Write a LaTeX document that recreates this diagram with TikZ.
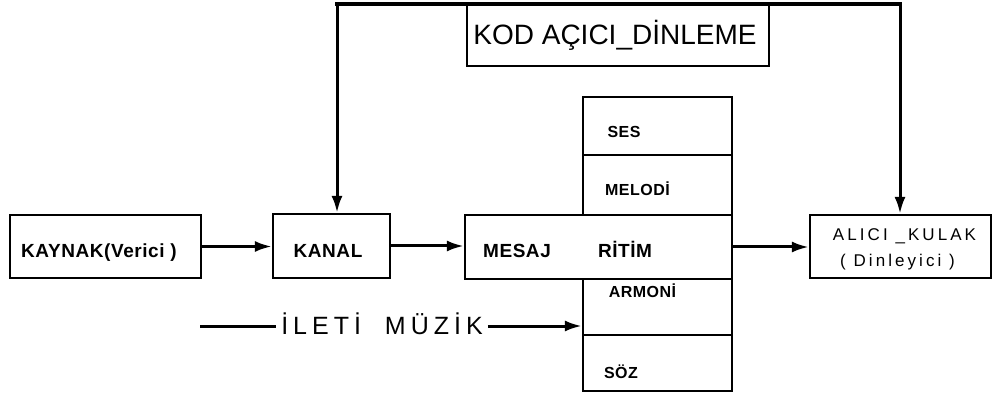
\documentclass[tikz,border=0pt]{standalone}
\usepackage{fontspec}
\setmainfont{Liberation Sans}
\newfontfamily\boxfont{Liberation Sans}[LetterSpace=3]
\newfontfamily\widefont{Liberation Sans}[LetterSpace=18]
\newfontfamily\iletifont{Liberation Sans}[LetterSpace=20]
\usetikzlibrary{arrows.meta}
\tikzset{
  cell/.style={draw, line width=2.2pt, inner sep=0pt},
  lbl/.style={inner sep=0pt, anchor=base, font=\boxfont\bfseries\fontsize{19}{22}\selectfont},
  smalllbl/.style={inner sep=0pt, anchor=base, font=\boxfont\bfseries\fontsize{16}{19}\selectfont},
  alicilbl/.style={inner sep=0pt, anchor=base, font=\widefont\fontsize{17}{20}\selectfont},
  arr/.style={line width=3pt, -{Latex[length=17pt,width=11pt]}},
  loopline/.style={line width=3.5pt}
}
\begin{document}
\begin{tikzpicture}[x=1pt,y=-1pt]
\useasboundingbox (0,0) rectangle (999,398);

% boxes
\node[cell, minimum width=191pt, minimum height=63pt] (kaynak) at (105.5,246.5) {};
\node[cell, minimum width=117pt, minimum height=64pt] (kanal) at (331.5,246) {};
\node[cell, minimum width=267pt, minimum height=64pt] (mesaj) at (598.5,247) {};
\node[cell, minimum width=149pt, minimum height=58pt] (ses) at (657.5,126) {};
\node[cell, minimum width=149pt, minimum height=60pt] (melodi) at (657.5,185) {};
\node[cell, minimum width=149pt, minimum height=56pt] (armoni) at (657.5,307) {};
\node[cell, minimum width=149pt, minimum height=56pt] (soz) at (657.5,363) {};
\node[cell, minimum width=181pt, minimum height=63pt] (alici) at (900.5,246.5) {};
\node[cell, line width=2.8pt, minimum width=302pt, minimum height=62pt] (kod) at (618,35) {};

% labels
\node[lbl] (kaynakT) at (99,258) {KAYNAK(Verici )};
\node[lbl] (kanalT) at (328,258) {KANAL};
\node[lbl] (mesajT) at (517,258) {MESAJ};
\node[lbl] (ritimT) at (625,258) {RİTİM};
\node[smalllbl] (sesT) at (624,138) {SES};
\node[smalllbl] (melodiT) at (637.5,196) {MELODİ};
\node[smalllbl] (armoniT) at (642.5,298) {ARMONİ};
\node[smalllbl] (sozT) at (621,378) {SÖZ};
\node[alicilbl] (aliciT1) at (904.5,241) {ALICI \_KULAK};
\node[alicilbl] (aliciT2) at (897.5,266) {( Dinleyici )};
\node[inner sep=0pt, anchor=base, font=\fontsize{28}{32}\selectfont] (kodT) at (615,45) {KOD AÇICI\_DİNLEME};
\node[inner sep=0pt, inner xsep=5pt, anchor=base, font=\iletifont\fontsize{25}{29}\selectfont] (ileti) at (382,334) {İLETİ\hspace{12pt} MÜZİK};

% connectors
\draw[arr] (kaynak.east) -- (kaynak.east -| kanal.west);
\draw[arr] (kanal.east) -- (kanal.east -| mesaj.west);
\draw[arr] (mesaj.east) -- (mesaj.east -| alici.west);

\coordinate (tl) at (337,4);
\coordinate (tr) at (900,4);
\draw[loopline, line cap=rect] (tl) -- (tr);
\draw[arr] (tl) -- (tl |- kanal.north);
\draw[arr] (tr) -- (tr |- alici.north);

\coordinate (ilstart) at (200,326);
\draw[line width=3pt] (ilstart) -- (ilstart -| ileti.west);
\draw[arr] (ilstart -| ileti.east) -- (ilstart -| armoni.west);
\end{tikzpicture}
\end{document}
